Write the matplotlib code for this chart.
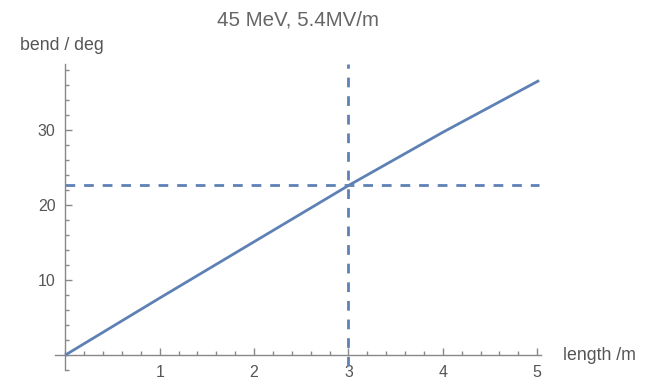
import matplotlib
matplotlib.use("Agg")
import matplotlib.pyplot as plt
from matplotlib.ticker import MultipleLocator

length = [0.0, 1.0, 2.0, 3.0, 4.0, 5.02]
bend = [0.0, 7.6, 15.1, 22.6, 29.7, 36.6]
mark_length = 3.0
mark_bend = 22.6
x_ticks = [1, 2, 3, 4, 5]
y_ticks = [10, 20, 30]

plt.rcParams['font.family'] = ['Liberation Sans', 'DejaVu Sans']
line_color = '#5E81B5'
axis_color = '#888888'
text_color = '#555555'

fig = plt.figure(figsize=(6.5, 3.79), dpi=100)
W, H = 650, 379
x0p, x1p = 55, 541
ytop, ybot = 64, 370
ax = fig.add_axes([x0p / W, 1 - ybot / H, (x1p - x0p) / W, (ybot - ytop) / H])
ax.set_xlim(-0.11, 5.04)
ax.set_ylim(-2.0, 38.8)

ax.plot(length, bend, color=line_color, lw=2.0, solid_capstyle='butt', zorder=3)
ax.plot([mark_length, mark_length], [-1.5, 38.8], color=line_color, lw=2.0,
        ls=(0, (3.5, 3.2)), zorder=2)
ax.plot([0, 5.02], [mark_bend, mark_bend], color=line_color, lw=2.0,
        ls=(0, (3.5, 3.2)), zorder=2)

for s in ['top', 'right']:
    ax.spines[s].set_visible(False)
ax.spines['left'].set_position(('data', 0))
ax.spines['bottom'].set_position(('data', 0))
for s in ['left', 'bottom']:
    ax.spines[s].set_color(axis_color)
    ax.spines[s].set_linewidth(1.0)

ax.set_xticks(x_ticks)
ax.set_yticks(y_ticks)
ax.xaxis.set_minor_locator(MultipleLocator(0.2))
ax.yaxis.set_minor_locator(MultipleLocator(2))
ax.tick_params(axis='both', which='major', direction='in', length=5, width=1.0,
               color=axis_color, labelcolor=text_color, labelsize=11.5)
ax.tick_params(axis='both', which='minor', direction='in', length=3, width=1.0,
               color=axis_color)
ax.tick_params(axis='x', pad=7)
ax.tick_params(axis='y', pad=7)
ax.patch.set_alpha(0)

fig.text(217 / W, 1 - 20 / H, '45 MeV, 5.4MV/m', ha='left', va='center',
         fontsize=14.8, color='#666666')
fig.text(20 / W, 1 - 45 / H, 'bend / deg', ha='left', va='center',
         fontsize=12.8, color=text_color)
fig.text(563 / W, 1 - 355 / H, 'length /m', ha='left', va='center',
         fontsize=12.8, color=text_color)

fig.savefig('out.png', dpi=100)
